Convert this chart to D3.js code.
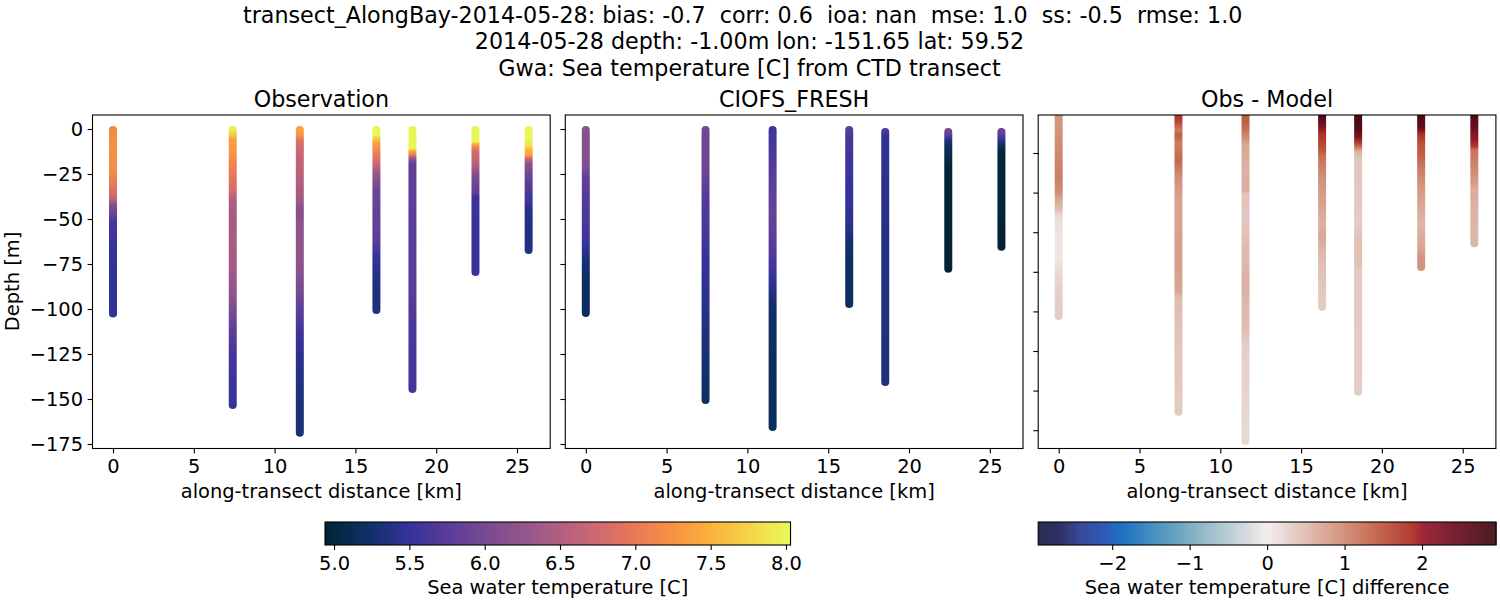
<!DOCTYPE html>
<html><head><meta charset="utf-8">
<script src="https://cdn.jsdelivr.net/npm/d3@7"></script>
<style>
html,body{margin:0;padding:0;background:#fff}
text{font-family:"DejaVu Sans",sans-serif;fill:#000;white-space:pre}
</style></head><body><svg id="c" width="1500" height="600"></svg>
<script>
const titleLines = ["transect_AlongBay-2014-05-28: bias: -0.7  corr: 0.6  ioa: nan  mse: 1.0  ss: -0.5  rmse: 1.0",
  "2014-05-28 depth: -1.00m lon: -151.65 lat: 59.52","Gwa: Sea temperature [C] from CTD transect"];
const panelTitles = ["Observation","CIOFS_FRESH","Obs - Model"];
const stationKm = [0,7.41,11.56,16.3,18.53,22.43,25.72];
const xTicks = [0,5,10,15,20,25];
const yTicks = [0,-25,-50,-75,-100,-125,-150,-175];
const diffYTicks = [-25,-50,-75,-100,-125,-150,-175,-200];
const tempTicks = [5,5.5,6,6.5,7,7.5,8];
const diffTicks = [-2,-1,0,1,2];

const obsDepth = [
 [0.5,3,10,20,28,34,39,42,48,52,58,65,80,102.5],
 [0.5,3,6,10,14,20,28,35,40,50,60,75,90,102,111,127,153.3],
 [0.5,3,6,10,20,30,40,45,53,72,81,90,103,114,127,146,168.7],
 [0.5,3.5,5,8,14,17,21,26,34,56,63,72,87,100.5],
 [0.5,10.5,11,12,14.5,16,18,20,90,110,144.4],
 [0.5,7,8,10,13,19,27,36,37,56,79.4],
 [0.5,6,9,12,15,16,19,25,30,40,45,53,67.2]];
const obsTemp = [
 [7.15,7.2,7.25,7.2,7.08,6.9,6.6,6.1,5.85,5.6,5.6,5.5,5.47,5.47],
 [7.9,7.7,7.35,7.3,7.25,7.1,6.95,6.75,6.5,6.4,6.42,6.4,6.25,6.0,5.8,5.6,5.5],
 [7.35,7.3,6.95,6.75,6.6,6.5,6.35,6.1,6.2,6.25,6.15,6.0,5.75,5.55,5.42,5.33,5.3],
 [8.0,8.0,7.7,7.35,7.0,6.9,6.55,6.2,5.9,5.8,5.75,5.5,5.35,5.35],
 [8.0,8.0,7.9,7.5,7.0,6.4,5.95,5.8,5.75,5.65,5.6],
 [8.0,8.0,7.6,7.1,6.75,6.55,6.0,5.8,5.55,5.5,5.5],
 [8.0,8.0,7.85,7.5,7.3,6.8,6.2,5.95,5.75,5.55,5.38,5.36,5.36]];

const modelDepth = [
 [0.5,20,26,45,53,64,75,85,102.2],
 [0.5,20,40,56,72,90,109,127,150.5],
 [0.5,8,25,45,56,68,79,87,100,120,165.6],
 [0.5,5,20,40,56,60,72,97.2],
 [1.7,4,10,50,72,100,125,140.6],
 [1.7,4,7,10,23,77.6],
 [1.7,4.5,8,11,20,65.4]];
const modelTemp = [
 [6.15,6.1,5.85,5.65,5.65,5.5,5.28,5.2,5.19],
 [5.95,5.95,5.7,5.65,5.5,5.45,5.37,5.3,5.2],
 [5.55,5.6,5.75,5.85,5.8,5.7,5.55,5.42,5.23,5.19,5.17],
 [5.75,5.65,5.55,5.5,5.42,5.3,5.2,5.17],
 [5.65,5.47,5.45,5.4,5.38,5.36,5.35,5.35],
 [5.95,5.7,5.3,5.15,4.97,4.95],
 [5.85,5.6,5.3,5.05,4.97,4.95]];

const diffDepth = [
 [0,18.7,40,48.4,54.7,61,65.4,71.7,91.3,102,112.8,127.9],
 [0,4.2,10.5,13.6,18.7,29.4,38.9,45.2,54.7,70.5,91.3,112.8,116.5,143,188.3],
 [0,7.3,13.6,20,35.7,48.4,51.5,70.5,86.2,108.3,138,148,206.8],
 [0,4.2,8.6,13.6,23.2,26.3,32.6,38.9,51.5,70.5,78.7,86.2,95.7,118,122],
 [0,10.5,14.9,18.7,21.2,24.4,29.4,70.5,80,95.7,99,175.7],
 [0,7.3,10.5,13.6,20,26.3,35.7,45.2,51.5,57.8,70.5,86.2,91.3,97],
 [0,7.3,11.8,16.8,21.2,23.1,32.6,42,48.4,70.5,81.9]];
const diffValue = [
 [0.85,0.95,1.1,1.0,0.7,0.45,0.15,0.1,0.08,0.2,0.3,0.33],
 [1.8,1.7,1.15,1.4,1.1,1.3,1.0,0.85,0.75,0.75,0.8,0.7,0.5,0.4,0.35],
 [1.5,1.35,1.05,0.7,0.6,0.65,0.4,0.38,0.5,0.6,0.45,0.3,0.2],
 [2.85,2.6,2.2,1.8,1.5,1.25,1.1,0.95,0.8,0.6,0.7,0.55,0.45,0.35,0.33],
 [2.9,2.65,2.2,1.7,1.2,0.55,0.4,0.33,0.45,0.45,0.35,0.33],
 [2.9,2.6,2.3,1.8,1.5,1.4,1.1,0.9,0.8,0.7,0.55,0.75,0.9,0.9],
 [2.9,2.5,2.2,2.0,1.7,1.2,1.05,0.85,0.65,0.55,0.55]];

const thermalColors = ["rgb(3,35,51)","rgb(13,48,100)","rgb(53,50,155)","rgb(93,62,153)","rgb(126,77,143)","rgb(158,89,135)","rgb(193,100,121)","rgb(225,113,97)","rgb(246,139,69)","rgb(251,173,60)","rgb(246,211,70)","rgb(231,250,90)"];
const thermalStops = d3.range(12).map(i=>i/11);
const balanceColors = ["rgb(23,28,66)","rgb(28,34,88)","rgb(41,58,143)","rgb(30,75,175)","rgb(11,102,189)","rgb(69,144,185)","rgb(142,181,194)","rgb(210,216,219)","rgb(241,236,236)","rgb(230,210,204)","rgb(213,157,137)","rgb(196,101,72)","rgb(172,43,36)","rgb(150,22,40)","rgb(110,14,36)","rgb(60,9,17)"];
const balanceStops = [0,0.05,1/11,0.14,2/11,3/11,4/11,5/11,0.5,6/11,7/11,8/11,9/11,0.84,10/11,1];
const tempExtent = [4.94,8.03], diffExtent = [-2.955,2.955];

const ramp = (ext,cols,stops)=>d3.scaleLinear().domain(stops.map(f=>ext[0]+(ext[1]-ext[0])*f)).range(cols).clamp(true);
const tempColor = ramp(tempExtent,thermalColors,thermalStops), diffColor = ramp(diffExtent,balanceColors,balanceStops);

const svg = d3.select("#c");
const defs = svg.append("defs");
const F = 19.44, T = 22.22;

titleLines.forEach((t,i)=>svg.append("text").attr("x",[742.7,749.5,749.5][i]).attr("y",[22.5,49,75.5][i]).attr("text-anchor","middle").attr("font-size",T).text(t));

const axTop=115, axBottom=448.5, W=457.7;
const lefts=[92.5,565.3,1038.2];
const xDomain=[(92.5-113)/16.16,(550.2-113)/16.16];
const yMain=d3.scaleLinear().domain([(129-448.5)/1.8,(129-115)/1.8]).range([axBottom,axTop]);
const yDiff=d3.scaleLinear().domain([(113.4-448.5)/1.584,(113.4-115)/1.584]).range([axBottom,axTop]);

const panels=[
 {d:obsDepth,v:obsTemp,c:tempColor,y:yMain,yt:yTicks,lab:true},
 {d:modelDepth,v:modelTemp,c:tempColor,y:yMain,yt:yTicks,lab:false},
 {d:diffDepth,v:diffValue,c:diffColor,y:yDiff,yt:diffYTicks,lab:false}];

function styleAxis(g){
  g.selectAll("path.domain").remove();
  g.selectAll("line").attr("stroke","#000").attr("stroke-width",1.1);
  g.selectAll("text").attr("font-size",F).attr("font-family","DejaVu Sans");
}
const fmt=v=>String(v).replace("-","\u2212");

panels.forEach((p,i)=>{
  const x=d3.scaleLinear().domain(xDomain).range([0,W]);
  const g=svg.append("g").attr("transform",`translate(${lefts[i]},0)`);
  const cid="clip"+i;
  defs.append("clipPath").attr("id",cid).append("rect").attr("x",0).attr("y",axTop).attr("width",W).attr("height",axBottom-axTop);
  const marks=g.append("g").attr("clip-path",`url(#${cid})`);
  const line=d3.line().x(d=>x(d[0])).y(d=>p.y(-d[1]));
  stationKm.forEach((km,s)=>{
    const ds=p.d[s], vs=p.v[s];
    const id=`grad${i}_${s}`;
    const y0=p.y(-ds[0]), y1=p.y(-ds[ds.length-1]);
    const gr=defs.append("linearGradient").attr("id",id).attr("gradientUnits","userSpaceOnUse")
      .attr("x1",0).attr("x2",0).attr("y1",y0).attr("y2",y1);
    ds.forEach((d,k)=>gr.append("stop").attr("offset",(p.y(-d)-y0)/(y1-y0)).attr("stop-color",p.c(vs[k])));
    marks.append("path").datum(ds.map(d=>[km,d])).attr("d",line).attr("fill","none")
      .attr("stroke",`url(#${id})`).attr("stroke-width",8).attr("stroke-linecap","round");
  });
  g.append("rect").attr("x",0).attr("y",axTop).attr("width",W).attr("height",axBottom-axTop).attr("fill","none").attr("stroke","#000").attr("stroke-width",1.1);
  const ax=g.append("g").attr("transform",`translate(0,${axBottom})`).call(d3.axisBottom(x).tickValues(xTicks).tickSize(4.9).tickPadding(5.5).tickFormat(d3.format("d")));
  styleAxis(ax);
  const ay=g.append("g").call(d3.axisLeft(p.y).tickValues(p.yt).tickSize(4.9).tickPadding(4.5).tickFormat(p.lab?fmt:""));
  styleAxis(ay);
  g.append("text").attr("x",W/2).attr("y",107).attr("text-anchor","middle").attr("font-size",T).text(panelTitles[i]);
  g.append("text").attr("x",W/2).attr("y",497.5).attr("text-anchor","middle").attr("font-size",F).text("along-transect distance [km]");
});
svg.append("text").attr("transform","translate(18.5,281.5) rotate(-90)").attr("text-anchor","middle").attr("font-size",F).text("Depth [m]");

function colorbar(x0,x1,ext,color,ticks,label,tf){
  const s=d3.scaleLinear().domain(ext).range([x0,x1]);
  const g=svg.append("g");
  const n=Math.round(x1-x0);
  g.selectAll("rect").data(d3.range(n)).join("rect")
    .attr("x",i=>x0+i).attr("y",522).attr("width",1.4).attr("height",23)
    .attr("fill",i=>color(s.invert(x0+i+0.5)));
  g.append("rect").attr("x",x0).attr("y",522).attr("width",x1-x0).attr("height",23).attr("fill","none").attr("stroke","#000").attr("stroke-width",1.1);
  const a=svg.append("g").attr("transform","translate(0,545)").call(d3.axisBottom(s).tickValues(ticks).tickSize(4.9).tickPadding(6).tickFormat(tf));
  styleAxis(a);
  svg.append("text").attr("x",(x0+x1)/2).attr("y",593.5).attr("text-anchor","middle").attr("font-size",F).text(label);
}
colorbar(325,790.5,tempExtent,tempColor,tempTicks,"Sea water temperature [C]",d3.format(".1f"));
colorbar(1038.2,1496,diffExtent,diffColor,diffTicks,"Sea water temperature [C] difference",fmt);
</script></body></html>
